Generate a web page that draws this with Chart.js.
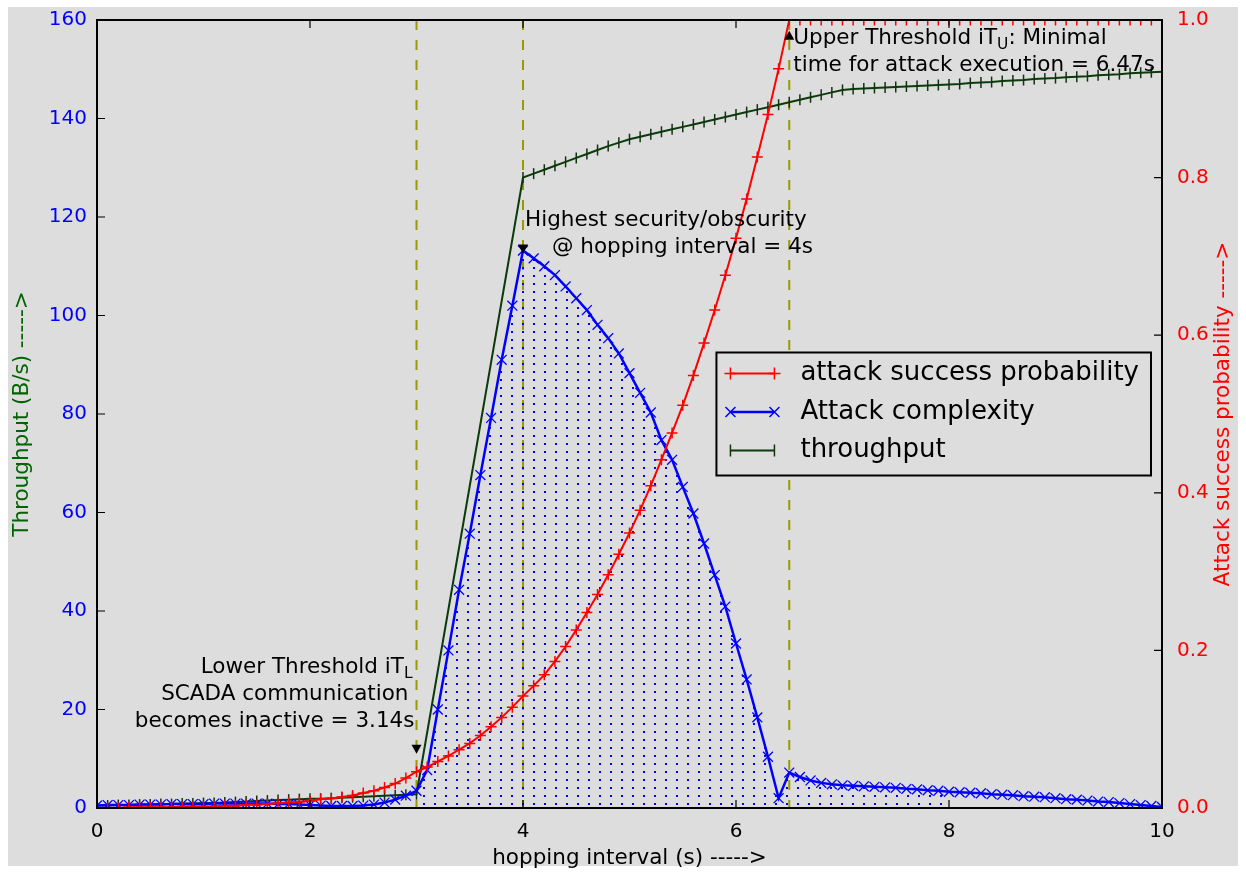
<!DOCTYPE html>
<html>
<head>
<meta charset="utf-8">
<script src="https://cdn.jsdelivr.net/npm/chart.js@4/dist/chart.umd.min.js"></script>
<style>
  html, body { margin: 0; padding: 0; background: #ffffff; }
  #wrap { width: 1246px; height: 873px; }
</style>
</head>
<body>
<div id="wrap"><canvas id="hopChart" width="1246" height="873"></canvas></div>
<script>
// hopping interval (s), one sample every 0.1 s
const hoppingInterval = [
  0.0, 0.1, 0.2, 0.3, 0.4, 0.5, 0.6, 0.7, 0.8, 0.9,
  1.0, 1.1, 1.2, 1.3, 1.4, 1.5, 1.6, 1.7, 1.8, 1.9,
  2.0, 2.1, 2.2, 2.3, 2.4, 2.5, 2.6, 2.7, 2.8, 2.9,
  3.0, 3.1, 3.2, 3.3, 3.4, 3.5, 3.6, 3.7, 3.8, 3.9,
  4.0, 4.1, 4.2, 4.3, 4.4, 4.5, 4.6, 4.7, 4.8, 4.9,
  5.0, 5.1, 5.2, 5.3, 5.4, 5.5, 5.6, 5.7, 5.8, 5.9,
  6.0, 6.1, 6.2, 6.3, 6.4, 6.5, 6.6, 6.7, 6.8, 6.9,
  7.0, 7.1, 7.2, 7.3, 7.4, 7.5, 7.6, 7.7, 7.8, 7.9,
  8.0, 8.1, 8.2, 8.3, 8.4, 8.5, 8.6, 8.7, 8.8, 8.9,
  9.0, 9.1, 9.2, 9.3, 9.4, 9.5, 9.6, 9.7, 9.8, 9.9,
  10.0
];

// right axis
const attackProbability = [
  0.000, 0.000, 0.000, 0.001, 0.001, 0.001, 0.001, 0.001, 0.002, 0.002,
  0.002, 0.002, 0.003, 0.003, 0.004, 0.004, 0.005, 0.006, 0.007, 0.008,
  0.009, 0.011, 0.012, 0.014, 0.016, 0.019, 0.022, 0.026, 0.031, 0.038,
  0.046, 0.052, 0.059, 0.066, 0.074, 0.082, 0.092, 0.103, 0.115, 0.128,
  0.142, 0.155, 0.169, 0.186, 0.205, 0.226, 0.248, 0.271, 0.296, 0.322,
  0.349, 0.378, 0.409, 0.442, 0.476, 0.511, 0.549, 0.590, 0.632, 0.676,
  0.723, 0.773, 0.826, 0.880, 0.938, 1.000, 1.000, 1.000, 1.000, 1.000,
  1.000, 1.000, 1.000, 1.000, 1.000, 1.000, 1.000, 1.000, 1.000, 1.000,
  1.000, 1.000, 1.000, 1.000, 1.000, 1.000, 1.000, 1.000, 1.000, 1.000,
  1.000, 1.000, 1.000, 1.000, 1.000, 1.000, 1.000, 1.000, 1.000, 1.000,
  1.000
];

// left axis
const attackComplexity = [
  0.5, 0.6, 0.6, 0.6, 0.7, 0.7, 0.7, 0.8, 0.8, 0.8,
  0.8, 0.9, 0.9, 0.9, 0.9, 0.9, 0.9, 0.8, 0.8, 0.7,
  0.6, 0.5, 0.4, 0.4, 0.4, 0.5, 0.7, 1.1, 1.7, 2.5,
  3.5, 7.7, 20.0, 32.0, 44.3, 55.7, 67.6, 79.2, 91.0, 102.0,
  113.2, 111.6, 110.0, 108.2, 105.9, 103.5, 101.1, 98.1, 95.4, 92.3,
  88.3, 84.3, 80.3, 74.7, 70.7, 65.2, 59.8, 53.7, 47.3, 40.9,
  33.4, 26.1, 18.4, 10.4, 2.0, 7.2, 6.3, 5.6, 5.1, 4.8,
  4.6, 4.5, 4.4, 4.3, 4.2, 4.1, 3.9, 3.8, 3.6, 3.5,
  3.3, 3.2, 3.1, 3.0, 2.8, 2.7, 2.6, 2.4, 2.3, 2.2,
  2.0, 1.8, 1.7, 1.5, 1.3, 1.2, 1.0, 0.8, 0.6, 0.4,
  0.2
];

// left axis, no samples between 3.0 and 4.0
const throughput = [
  0.5, 0.5, 0.6, 0.6, 0.7, 0.7, 0.8, 0.8, 0.9, 0.9,
  1.0, 1.0, 1.1, 1.2, 1.3, 1.4, 1.5, 1.6, 1.7, 1.8,
  1.9, 1.9, 2.0, 2.1, 2.2, 2.3, 2.4, 2.5, 2.6, 2.7,
  2.8, null, null, null, null, null, null, null, null, null,
  128.0, 128.8, 129.6, 130.4, 131.2, 132.0, 132.8, 133.6, 134.4, 135.1,
  135.8, 136.3, 136.8, 137.3, 137.8, 138.3, 138.8, 139.3, 139.8, 140.3,
  140.8, 141.3, 141.8, 142.3, 142.8, 143.3, 143.8, 144.3, 144.8, 145.3,
  145.8, 146.0, 146.1, 146.2, 146.3, 146.4, 146.5, 146.6, 146.7, 146.8,
  146.9, 147.0, 147.2, 147.3, 147.4, 147.6, 147.7, 147.8, 148.0, 148.1,
  148.2, 148.4, 148.5, 148.6, 148.8, 148.9, 149.0, 149.2, 149.3, 149.4,
  149.5
];

const xTickValues = [0, 2, 4, 6, 8, 10];
const leftTickValues = [0, 20, 40, 60, 80, 100, 120, 140, 160];
const rightTickValues = [0.0, 0.2, 0.4, 0.6, 0.8, 1.0];

const hatchRange = [3.0, 8.0];
const thresholdLines = [3.0, 4.0, 6.5];

const FONT = '"DejaVu Sans", sans-serif';
const BG = '#dddddd';

Chart.defaults.font.family = FONT;

function toPoints(values) {
  return hoppingInterval.map((x, i) => ({ x: x, y: values[i] }));
}

function hatchPoints() {
  return hoppingInterval.map((x, i) => ({
    x: x,
    y: (x >= hatchRange[0] - 1e-9 && x <= hatchRange[1] + 1e-9) ? attackComplexity[i] : null
  }));
}

function dotPattern(ctx) {
  const c = document.createElement('canvas');
  c.width = 11;
  c.height = 8;
  const g = c.getContext('2d');
  g.fillStyle = '#0000ff';
  g.fillRect(5, 3, 2, 2);
  return ctx.createPattern(c, 'repeat');
}

function drawRich(ctx, parts, x, y, align, size) {
  let total = 0;
  parts.forEach(p => {
    ctx.font = (p[1] ? size * 0.72 : size) + 'px ' + FONT;
    p.w = ctx.measureText(p[0]).width;
    total += p.w;
  });
  let cx = align === 'right' ? x - total : x;
  ctx.textAlign = 'left';
  ctx.textBaseline = 'middle';
  parts.forEach(p => {
    ctx.font = (p[1] ? size * 0.72 : size) + 'px ' + FONT;
    ctx.fillText(p[0], cx, p[1] ? y + size * 0.3 : y);
    cx += p.w;
  });
}

function triangle(ctx, px, py, up) {
  const s = up ? 1 : -1;
  ctx.beginPath();
  ctx.moveTo(px, py);
  ctx.lineTo(px - 5, py + s * 9);
  ctx.lineTo(px + 5, py + s * 9);
  ctx.closePath();
  ctx.fill();
}

function drawMarker(ctx, kind, px, py) {
  ctx.beginPath();
  if (kind === 'cross') {
    ctx.moveTo(px - 6, py); ctx.lineTo(px + 6, py);
    ctx.moveTo(px, py - 6); ctx.lineTo(px, py + 6);
  } else if (kind === 'crossRot') {
    ctx.moveTo(px - 5, py - 5); ctx.lineTo(px + 5, py + 5);
    ctx.moveTo(px - 5, py + 5); ctx.lineTo(px + 5, py - 5);
  } else {
    ctx.moveTo(px, py - 6); ctx.lineTo(px, py + 6);
  }
  ctx.stroke();
}

// keep the plot box fixed: no extra room for overhanging tick labels
function fixBox(size, horizontal) {
  return s => {
    if (horizontal) s.height = size; else s.width = size;
    s.paddingTop = 0;
    s.paddingBottom = 0;
    s.paddingLeft = 0;
    s.paddingRight = 0;
  };
}

const decorPlugin = {
  id: 'decor',
  beforeDraw(chart) {
    const ctx = chart.ctx;
    ctx.save();
    ctx.fillStyle = '#ffffff';
    ctx.fillRect(0, 0, chart.width, chart.height);
    ctx.fillStyle = BG;
    ctx.fillRect(8, 7, chart.width - 16, chart.height - 14);
    ctx.restore();
  },
  beforeDatasetsDraw(chart) {
    const ctx = chart.ctx;
    const a = chart.chartArea;
    const xs = chart.scales.x;
    ctx.save();
    ctx.strokeStyle = '#999900';
    ctx.lineWidth = 2;
    ctx.setLineDash([10, 10]);
    thresholdLines.forEach(v => {
      const px = xs.getPixelForValue(v);
      ctx.beginPath();
      ctx.moveTo(px, a.top);
      ctx.lineTo(px, a.bottom);
      ctx.stroke();
    });
    ctx.restore();
  },
  afterDatasetsDraw(chart) {
    const ctx = chart.ctx;
    const a = chart.chartArea;
    const xs = chart.scales.x, ys = chart.scales.y, yr = chart.scales.y1;
    ctx.save();

    // frame and inward ticks
    ctx.strokeStyle = '#000000';
    ctx.lineWidth = 2;
    ctx.strokeRect(a.left, a.top, a.right - a.left, a.bottom - a.top);
    ctx.lineWidth = 1.2;
    ctx.beginPath();
    xTickValues.forEach(v => {
      const px = xs.getPixelForValue(v);
      ctx.moveTo(px, a.bottom); ctx.lineTo(px, a.bottom - 8);
      ctx.moveTo(px, a.top); ctx.lineTo(px, a.top + 8);
    });
    leftTickValues.forEach(v => {
      const py = ys.getPixelForValue(v);
      ctx.moveTo(a.left, py); ctx.lineTo(a.left + 8, py);
    });
    rightTickValues.forEach(v => {
      const py = yr.getPixelForValue(v);
      ctx.moveTo(a.right, py); ctx.lineTo(a.right - 8, py);
    });
    ctx.stroke();

    // annotation arrow heads
    ctx.fillStyle = '#000000';
    triangle(ctx, xs.getPixelForValue(3.0), ys.getPixelForValue(11.0), false);
    triangle(ctx, xs.getPixelForValue(4.0), ys.getPixelForValue(112.6), false);
    triangle(ctx, xs.getPixelForValue(6.5), ys.getPixelForValue(157.8), true);

    // annotation texts
    const lx = xs.getPixelForValue(3.0) - 4;
    drawRich(ctx, [['Lower Threshold iT'], ['L', true]], lx, ys.getPixelForValue(28.6), 'right', 21.5);
    drawRich(ctx, [['SCADA communication']], lx - 4, ys.getPixelForValue(23.1), 'right', 21.5);
    drawRich(ctx, [['becomes inactive = 3.14s']], lx + 2, ys.getPixelForValue(17.6), 'right', 21.5);
    drawRich(ctx, [['Highest security/obscurity']], xs.getPixelForValue(4.0) + 2, ys.getPixelForValue(119.4), 'left', 21.5);
    drawRich(ctx, [['@ hopping interval = 4s']], xs.getPixelForValue(4.0) + 29, ys.getPixelForValue(113.9), 'left', 21.5);
    drawRich(ctx, [['Upper Threshold iT'], ['U', true], [': Minimal']], xs.getPixelForValue(6.5) + 4, ys.getPixelForValue(156.3), 'left', 21.5);
    drawRich(ctx, [['time for attack execution = 6.47s']], xs.getPixelForValue(6.5) + 4, ys.getPixelForValue(150.7), 'left', 21.5);

    // axis titles
    const midY = (a.top + a.bottom) / 2;
    ctx.textAlign = 'center';
    ctx.textBaseline = 'middle';
    ctx.font = '21.5px ' + FONT;
    ctx.fillStyle = '#000000';
    ctx.fillText('hopping interval (s) ----->', (a.left + a.right) / 2, 858);
    ctx.save();
    ctx.translate(22, midY);
    ctx.rotate(-Math.PI / 2);
    ctx.fillStyle = '#006400';
    ctx.fillText('Throughput (B/s) ----->', 0, 0);
    ctx.restore();
    ctx.save();
    ctx.translate(1223, midY);
    ctx.rotate(-Math.PI / 2);
    ctx.fillStyle = '#ff0000';
    ctx.fillText('Attack success probability ----->', 0, 0);
    ctx.restore();

    // legend box
    const entries = chart.data.datasets.filter(d => d.legendMarker);
    ctx.font = '26px ' + FONT;
    const textW = Math.max.apply(null, entries.map(d => ctx.measureText(d.label).width));
    const boxW = 84 + textW + 12;
    const boxH = 123;
    const bx = a.right - 11 - boxW;
    const by = midY - boxH / 2;
    ctx.fillStyle = BG;
    ctx.fillRect(bx, by, boxW, boxH);
    ctx.strokeStyle = '#000000';
    ctx.lineWidth = 2;
    ctx.strokeRect(bx, by, boxW, boxH);
    entries.forEach((d, i) => {
      const ry = by + 21 + i * 38.5;
      ctx.strokeStyle = d.borderColor;
      ctx.lineWidth = d.borderWidth;
      ctx.beginPath();
      ctx.moveTo(bx + 14, ry);
      ctx.lineTo(bx + 58, ry);
      ctx.stroke();
      ctx.lineWidth = 1.5;
      ctx.strokeStyle = d.pointBorderColor;
      drawMarker(ctx, d.legendMarker, bx + 14, ry);
      drawMarker(ctx, d.legendMarker, bx + 58, ry);
      ctx.fillStyle = '#000000';
      ctx.textAlign = 'left';
      ctx.textBaseline = 'middle';
      ctx.fillText(d.label, bx + 84, ry);
    });

    ctx.restore();
  }
};

const canvas = document.getElementById('hopChart');
const ctx = canvas.getContext('2d');

const tickFont = { family: FONT, size: 20 };

new Chart(ctx, {
  type: 'line',
  data: {
    datasets: [
      {
        label: 'attack success probability',
        legendMarker: 'cross',
        data: toPoints(attackProbability),
        yAxisID: 'y1',
        borderColor: '#ff0000',
        borderWidth: 2,
        pointStyle: 'cross',
        pointRadius: 5.5,
        pointBorderColor: '#ff0000',
        pointBorderWidth: 1.5,
        pointBackgroundColor: '#ff0000',
        fill: false,
        tension: 0
      },
      {
        label: 'Attack complexity',
        legendMarker: 'crossRot',
        data: toPoints(attackComplexity),
        yAxisID: 'y',
        borderColor: '#0000ff',
        borderWidth: 2.5,
        pointStyle: 'crossRot',
        pointRadius: 7,
        pointBorderColor: '#0000ff',
        pointBorderWidth: 1.3,
        pointBackgroundColor: '#0000ff',
        fill: false,
        tension: 0
      },
      {
        label: 'throughput',
        legendMarker: 'line',
        data: toPoints(throughput),
        yAxisID: 'y',
        borderColor: '#0b3b0b',
        borderWidth: 2,
        pointStyle: 'line',
        pointRotation: 90,
        pointRadius: 5.5,
        pointBorderColor: '#123312',
        pointBorderWidth: 1.5,
        spanGaps: true,
        fill: false,
        tension: 0
      },
      {
        label: 'hatch',
        data: hatchPoints(),
        yAxisID: 'y',
        borderWidth: 0,
        borderColor: 'rgba(0,0,0,0)',
        pointRadius: 0,
        fill: 'origin',
        backgroundColor: dotPattern(ctx),
        spanGaps: false
      }
    ]
  },
  options: {
    responsive: false,
    animation: false,
    events: [],
    layout: {
      padding: { top: 20, left: 0, right: 0, bottom: 0 }
    },
    plugins: {
      legend: { display: false },
      tooltip: { enabled: false }
    },
    scales: {
      x: {
        type: 'linear',
        min: 0,
        max: 10,
        afterBuildTicks: s => { s.ticks = xTickValues.map(v => ({ value: v })); },
        afterFit: fixBox(65, true),
        grid: { display: false, drawTicks: false },
        border: { display: false },
        ticks: {
          color: '#000000',
          font: tickFont,
          padding: 12,
          maxRotation: 0,
          autoSkip: false
        }
      },
      y: {
        type: 'linear',
        position: 'left',
        min: 0,
        max: 160,
        afterBuildTicks: s => { s.ticks = leftTickValues.map(v => ({ value: v })); },
        afterFit: fixBox(97, false),
        grid: { display: false, drawTicks: false },
        border: { display: false },
        ticks: {
          color: '#0000ff',
          font: tickFont,
          padding: 10
        }
      },
      y1: {
        type: 'linear',
        position: 'right',
        min: 0,
        max: 1,
        afterBuildTicks: s => { s.ticks = rightTickValues.map(v => ({ value: v })); },
        afterFit: fixBox(84, false),
        grid: { display: false, drawTicks: false },
        border: { display: false },
        ticks: {
          color: '#ff0000',
          font: tickFont,
          padding: 15,
          callback: v => v.toFixed(1)
        }
      }
    }
  },
  plugins: [decorPlugin]
});
</script>
</body>
</html>
